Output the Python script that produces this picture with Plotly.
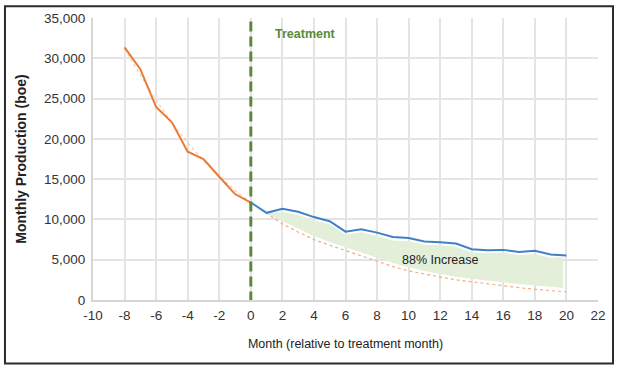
import plotly.graph_objects as go

# ---- data ----
pre_months = [-8, -7, -6, -5, -4, -3, -2, -1, 0]
pre_prod = [31350, 28650, 23950, 22050, 18400, 17500, 15300, 13150, 12100]
pre_fit = [31200, 27900, 24800, 22000, 19500, 17300, 15400, 13600, 12100]

post_months = list(range(0, 21))
post_prod = [12100, 10820, 11330, 10960, 10290, 9780, 8480, 8770, 8360, 7810, 7690,
             7260, 7180, 7020, 6310, 6180, 6220, 5970, 6100, 5640, 5520]
forecast = [12100, 10750, 9450, 8450, 7500, 6800, 6150, 5500, 4800, 4150, 3600,
            3200, 2850, 2500, 2240, 1980, 1740, 1530, 1330, 1160, 1000]

fill_months = [1, 2, 3, 4, 5, 6, 7, 8, 9, 10, 11, 12, 13, 14, 15, 16, 17, 18, 19, 19.8]
fill_top = [10800, 10900, 10550, 9900, 9400, 8100, 8400, 7950, 7400, 7300,
            6850, 6800, 6600, 5900, 5800, 5850, 5600, 5700, 5250, 5300]
fill_bottom = [10750, 9850, 8850, 7950, 7200, 6550, 5900, 5250, 4600, 4050,
               3600, 3250, 2900, 2650, 2400, 2200, 2000, 1800, 1650, 1500]

x_ticks = list(range(-10, 23, 2))
y_ticks = list(range(0, 35001, 5000))
treatment_month = 0

ORANGE = "#E97B35"
BLUE = "#3F80C6"
GREEN = "#5A8A38"
FILL = "#E3EFD9"
GRID = "#E4E4E4"
FONT = "Liberation Sans, Arial, sans-serif"

fig = go.Figure()

# filled incremental area
fig.add_trace(go.Scatter(x=fill_months, y=fill_bottom, mode="lines",
                         line=dict(width=0, color=FILL), hoverinfo="skip", showlegend=False))
fig.add_trace(go.Scatter(x=fill_months, y=fill_top, mode="lines", fill="tonexty",
                         fillcolor=FILL, line=dict(width=0, color=FILL),
                         hoverinfo="skip", showlegend=False))

# dotted decline fits
fig.add_trace(go.Scatter(x=pre_months, y=pre_fit, mode="lines",
                         line=dict(color="#F8C9AC", width=1.2, dash="dot"), showlegend=False))
fig.add_trace(go.Scatter(x=post_months, y=forecast, mode="lines",
                         line=dict(color="#F4AC80", width=1.2, dash="dot"), showlegend=False))

# actual production
fig.add_trace(go.Scatter(x=pre_months, y=pre_prod, mode="lines",
                         line=dict(color=ORANGE, width=2), showlegend=False))
fig.add_trace(go.Scatter(x=post_months, y=post_prod, mode="lines",
                         line=dict(color=BLUE, width=2), showlegend=False))

# treatment line
fig.add_shape(type="line", xref="x", yref="y", x0=treatment_month, x1=treatment_month,
              y0=-200, y1=35000, line=dict(color=GREEN, width=3, dash="10px,5px"))

fig.add_annotation(x=1.4, y=33000, xref="x", yref="y", text="<b>Treatment</b>",
                   showarrow=False, xanchor="left", yanchor="middle",
                   font=dict(family=FONT, size=12.5, color=GREEN))
fig.add_annotation(x=12, y=5000, xref="x", yref="y", text="88% Increase",
                   showarrow=False, xanchor="center", yanchor="middle",
                   font=dict(family=FONT, size=12.5, color="#222222"))

# outer frame
fig.add_shape(type="rect", xref="paper", yref="paper",
              x0=-0.1743, x1=1.0297, y0=-0.225, y1=1.042,
              line=dict(color="#2b2b2b", width=2), fillcolor="rgba(0,0,0,0)", layer="above")

fig.update_layout(
    width=620, height=370,
    margin=dict(l=93, r=22, t=18, b=70),
    paper_bgcolor="white", plot_bgcolor="white",
    font=dict(family=FONT, size=13.5, color="#333333"),
    xaxis=dict(range=[-10, 22], tickvals=x_ticks, ticktext=[str(v) for v in x_ticks],
               showgrid=True, gridcolor=GRID, gridwidth=1.5, zeroline=False,
               showline=True, linecolor="#D6D6D6", linewidth=2,
               ticks="outside", ticklen=2, tickcolor="rgba(0,0,0,0)",
               tickfont=dict(size=13.5, color="#333333"),
               title=dict(text="Month (relative to treatment month)",
                          font=dict(size=12.5, color="#222222"), standoff=17)),
    yaxis=dict(range=[0, 35000], tickvals=y_ticks,
               ticktext=[f"{v:,}" for v in y_ticks],
               showgrid=True, gridcolor=GRID, gridwidth=1.5, zeroline=False,
               showline=True, linecolor="#D6D6D6", linewidth=2,
               ticks="outside", ticklen=3, tickcolor="rgba(0,0,0,0)",
               tickfont=dict(size=13.5, color="#333333"),
               title=dict(text="<b>Monthly Production (boe)</b>",
                          font=dict(size=14, color="#222222"), standoff=14)),
)

fig.write_html("out.html", config={"displayModeBar": False},
               post_script="document.body.style.margin='0';document.body.style.padding='0';")
